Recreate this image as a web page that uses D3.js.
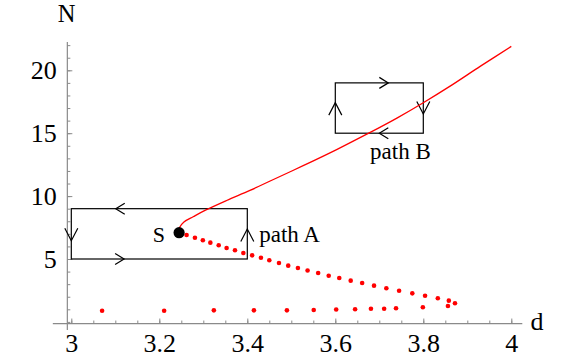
<!DOCTYPE html>
<html>
<head>
<meta charset="utf-8">
<script src="https://cdn.jsdelivr.net/npm/d3@7"></script>
<style>
  body { margin: 0; background: #fff; }
  svg { display: block; }
  text { font-family: "Liberation Serif", "Times New Roman", serif; fill: #000; }
</style>
</head>
<body>
<div id="chart"></div>
<script>
// stable branch (solid red), N rising from the saddle-node point S
var stableBranch = [
  [3.245, 7.09], [3.246, 7.5], [3.256, 7.95], [3.277, 8.36], [3.305, 8.88],
  [3.353, 9.65], [3.406, 10.45], [3.452, 11.2], [3.527, 12.42], [3.603, 13.7],
  [3.676, 15.0], [3.740, 16.2], [3.800, 17.42], [3.860, 18.72], [3.930, 20.33],
  [4.0, 21.9]
];

// unstable branch (red dots) going down from S
var unstableBranch = [
  [3.262, 6.91], [3.281, 6.69], [3.299, 6.49], [3.316, 6.30], [3.335, 6.09],
  [3.353, 5.87], [3.372, 5.69], [3.391, 5.48], [3.411, 5.29], [3.431, 5.10],
  [3.450, 4.90], [3.472, 4.68], [3.493, 4.47], [3.515, 4.28], [3.537, 4.09],
  [3.561, 3.89], [3.585, 3.67], [3.609, 3.49], [3.635, 3.28], [3.661, 3.09],
  [3.688, 2.88], [3.716, 2.67], [3.745, 2.48], [3.775, 2.27], [3.804, 2.08],
  [3.833, 1.88], [3.858, 1.69], [3.872, 1.48]
];

// lower branch (red dots) coming back towards d = 3
var lowerBranch = [
  [3.856, 1.26], [3.799, 1.17], [3.738, 1.08], [3.711, 1.05], [3.681, 1.04],
  [3.645, 1.01], [3.602, 0.99], [3.551, 0.95], [3.490, 0.92], [3.415, 0.92],
  [3.324, 0.92], [3.211, 0.89], [3.070, 0.89]
];

var saddlePoint = [3.245, 7.09];

var boxes = [
  { name: "path A", d0: 3.0, d1: 3.4, n0: 5, n1: 9 },
  { name: "path B", d0: 3.6, d1: 3.8, n0: 15, n1: 19 }
];

// arrow tips along the boxes: [d, N, direction]
var arrows = [
  [3.101, 9, "left"], [3.120, 5, "right"], [3.0, 6.45, "down"], [3.4, 7.38, "up"],
  [3.7205, 19, "right"], [3.8, 16.53, "down"], [3.700, 15, "left"], [3.6, 17.43, "up"]
];

var labels = [
  { text: "path A", d: 3.427, n: 6.38, anchor: "start" },
  { text: "path B", d: 3.679, n: 12.93, anchor: "start" },
  { text: "S", d: 3.199, n: 6.38, anchor: "middle" }
];

var xMajor = [3, 3.2, 3.4, 3.6, 3.8, 4];
var xMinor = d3.range(60).map(function (i) { return 2.95 + i * 0.05; })
  .filter(function (v) { return v > 2.99 && v < 4.02; });
var yMajor = [5, 10, 15, 20];
var yMinor = d3.range(0, 23);

var width = 581, height = 359;

var x = d3.scaleLinear().domain([3, 4]).range([71.3, 511.3]);
var y = d3.scaleLinear().domain([0, 20]).range([321.9, 70.3]);

var svg = d3.select("#chart").append("svg")
  .attr("width", width)
  .attr("height", height);

svg.append("rect").attr("width", width).attr("height", height).attr("fill", "#fff");

// axes cross slightly off the origin, as in the original
var axisX = 2.991, axisY = -0.13;
var axisColor = "#8a8a8a";

svg.append("line")
  .attr("x1", x(2.958)).attr("x2", x(4.025))
  .attr("y1", y(axisY)).attr("y2", y(axisY))
  .attr("stroke", axisColor).attr("stroke-width", 1.2);
svg.append("line")
  .attr("x1", x(axisX)).attr("x2", x(axisX))
  .attr("y1", y(-0.64)).attr("y2", y(22.25))
  .attr("stroke", axisColor).attr("stroke-width", 1.2);

var gx = svg.append("g").attr("transform", "translate(0," + y(axisY) + ")");
gx.append("g").call(d3.axisBottom(x).tickValues(xMinor).tickSize(-3).tickSizeOuter(0).tickFormat(""));
gx.append("g").call(d3.axisBottom(x).tickValues(xMajor).tickSize(-5).tickSizeOuter(0)
  .tickPadding(10).tickFormat(d3.format("")));

var gy = svg.append("g").attr("transform", "translate(" + x(axisX) + ",0)");
gy.append("g").call(d3.axisLeft(y).tickValues(yMinor).tickSize(-3).tickSizeOuter(0).tickFormat(""));
gy.append("g").call(d3.axisLeft(y).tickValues(yMajor).tickSize(-5).tickSizeOuter(0)
  .tickPadding(10.6).tickFormat(d3.format("")));

svg.selectAll(".domain").remove();
svg.selectAll(".tick line").attr("stroke", axisColor).attr("stroke-width", 1);
svg.selectAll(".tick text")
  .attr("font-family", "Liberation Serif, serif")
  .attr("font-size", 26)
  .attr("fill", "#000");

svg.append("text").attr("x", 66.7).attr("y", 21.5)
  .attr("text-anchor", "middle").attr("font-size", 24.5).text("N");
svg.append("text").attr("x", 537).attr("y", 330)
  .attr("text-anchor", "middle").attr("font-size", 26).text("d");

// boxes
svg.selectAll("rect.box").data(boxes).enter().append("rect")
  .attr("class", "box")
  .attr("x", function (b) { return x(b.d0); })
  .attr("y", function (b) { return y(b.n1); })
  .attr("width", function (b) { return x(b.d1) - x(b.d0); })
  .attr("height", function (b) { return y(b.n0) - y(b.n1); })
  .attr("fill", "none")
  .attr("stroke", "#000")
  .attr("stroke-width", 1.2);

function chevron(a) {
  var px = x(a[0]), py = y(a[1]);
  var h = 9, w = 5.5, v = 12.5, vw = 6.5;
  switch (a[2]) {
    case "left": return "M" + (px + h) + "," + (py - w) + "L" + px + "," + py + "L" + (px + h) + "," + (py + w);
    case "right": return "M" + (px - h) + "," + (py - w) + "L" + px + "," + py + "L" + (px - h) + "," + (py + w);
    case "down": return "M" + (px - vw) + "," + (py - v) + "L" + px + "," + py + "L" + (px + vw) + "," + (py - v);
    case "up": return "M" + (px - vw) + "," + (py + v) + "L" + px + "," + py + "L" + (px + vw) + "," + (py + v);
  }
}

svg.selectAll("path.arrow").data(arrows).enter().append("path")
  .attr("class", "arrow")
  .attr("d", chevron)
  .attr("fill", "none")
  .attr("stroke", "#000")
  .attr("stroke-width", 1.2);

// stable branch
var line = d3.line()
  .x(function (p) { return x(p[0]); })
  .y(function (p) { return y(p[1]); })
  .curve(d3.curveCatmullRom.alpha(0.5));

svg.append("path")
  .datum(stableBranch)
  .attr("d", line)
  .attr("fill", "none")
  .attr("stroke", "#ff0000")
  .attr("stroke-width", 1.3);

// unstable dots
svg.selectAll("circle.dot").data(unstableBranch.concat(lowerBranch)).enter().append("circle")
  .attr("class", "dot")
  .attr("cx", function (p) { return x(p[0]); })
  .attr("cy", function (p) { return y(p[1]); })
  .attr("r", 2.3)
  .attr("fill", "#ff0000");

svg.append("circle")
  .attr("cx", x(saddlePoint[0]))
  .attr("cy", y(saddlePoint[1]))
  .attr("r", 5.6)
  .attr("fill", "#000");

svg.selectAll("text.lbl").data(labels).enter().append("text")
  .attr("class", "lbl")
  .attr("x", function (l) { return x(l.d); })
  .attr("y", function (l) { return y(l.n); })
  .attr("text-anchor", function (l) { return l.anchor; })
  .attr("font-size", function (l) { return l.text == "S" ? 22 : 23; })
  .text(function (l) { return l.text; });
</script>
</body>
</html>
